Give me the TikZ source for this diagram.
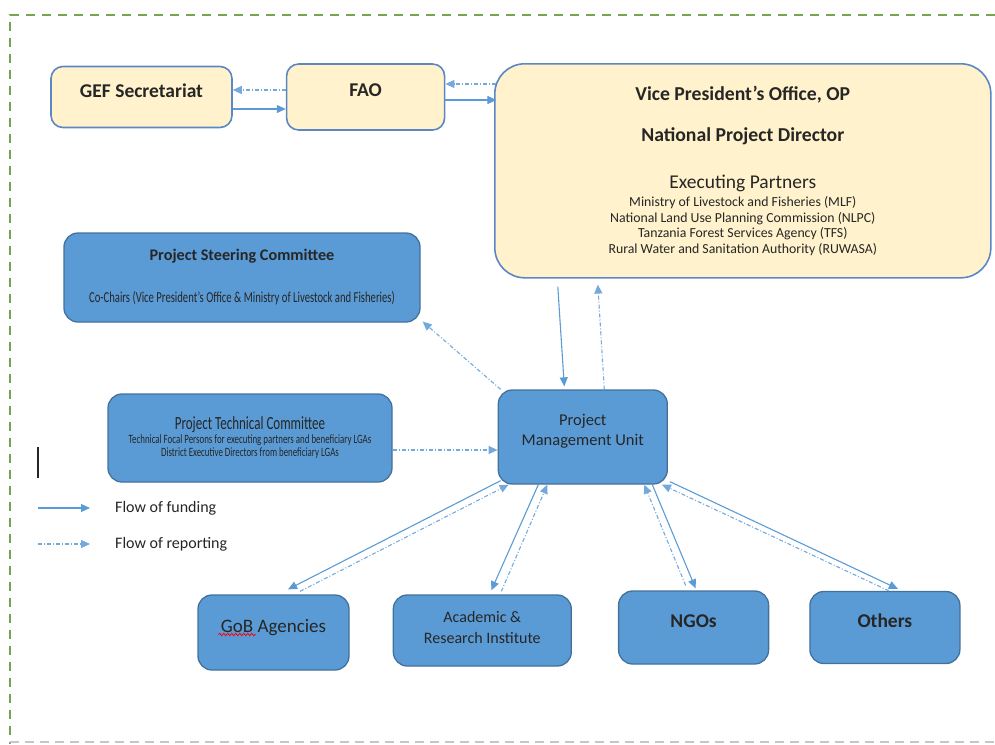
\documentclass[tikz,border=0pt]{standalone}
\usepackage{fontspec}
\setmainfont{Carlito}
\newfontfamily\narrowfont{Carlito}[FakeStretch=0.7]
\usetikzlibrary{arrows.meta, positioning, decorations.pathmorphing}

\definecolor{paleyellow}{HTML}{FFF2CC}
\definecolor{yellowedge}{HTML}{5B87C5}
\definecolor{boxblue}{HTML}{5B9BD5}
\definecolor{blueedge}{HTML}{41719C}
\definecolor{lineblue}{HTML}{5B9BD5}
\definecolor{framegreen}{HTML}{76A552}
\definecolor{textgray}{HTML}{262626}

\newcommand{\fixedlines}{\lineskiplimit=-100pt\relax}

\begin{document}
\begin{tikzpicture}[
    x=1pt, y=-1pt,
    yellowbox/.style={
        draw=yellowedge,
        fill=paleyellow,
        line width=1.6pt,
        rounded corners=12pt,
        align=center,
        inner sep=0pt,
        text=textgray,
        font=\bfseries\fontsize{19.5}{23}\selectfont
    },
    bluebox/.style={
        draw=blueedge,
        fill=boxblue,
        line width=1.3pt,
        rounded corners=14pt,
        align=center,
        inner sep=0pt,
        text=textgray
    },
    fund/.style={
        -{Triangle[length=9pt,width=8pt]},
        line width=1.1pt,
        draw=lineblue
    },
    report/.style={
        -{Triangle[length=9pt,width=8pt]},
        line width=1.1pt,
        draw=lineblue!85,
        dash pattern=on 4pt off 2pt on 1pt off 2pt
    },
    legend/.style={
        anchor=west,
        inner sep=0pt,
        text=textgray,
        font=\fontsize{16}{19}\selectfont
    }
]
\useasboundingbox (0,0) rectangle (995,744);

% Frame
\draw [framegreen, line width=2pt, dash pattern=on 9pt off 7pt] (995,15) -- (10,15) -- (10,744);
\draw [gray!45, line width=1.5pt, dash pattern=on 9pt off 6pt] (10,742) -- (995,742);

% Nodes
\node (gef) [yellowbox, minimum width=181pt, minimum height=61pt, text depth=13pt] at (141.5,97) {GEF Secretariat};
\node (fao) [yellowbox, minimum width=158pt, minimum height=66pt, text depth=13pt, right=53pt of gef] {FAO};
\node (vpo) [yellowbox, rounded corners=30pt, minimum width=496pt, minimum height=214pt, anchor=north west,
    font=\fontsize{13.8}{15.7}\selectfont\fixedlines] at (494,63)
    {{\bfseries\fontsize{19.7}{23}\selectfont Vice President’s Office, OP}\\[25.3pt]
     {\bfseries\fontsize{19.7}{23}\selectfont National Project Director}\\[31.3pt]
     {\fontsize{19.5}{23}\selectfont Executing Partners}\\[2.3pt]
     Ministry of Livestock and Fisheries (MLF)\\
     National Land Use Planning Commission (NLPC)\\
     Tanzania Forest Services Agency (TFS)\\
     Rural Water and Sanitation Authority (RUWASA)};

\node (psc) [bluebox, minimum width=356pt, minimum height=89pt,
    font=\fontsize{14}{16}\selectfont\fixedlines] at (242,277.5)
    {{\bfseries\fontsize{16.2}{19}\selectfont Project Steering Committee}\\[26pt]
     {\narrowfont\fontsize{15.2}{16}\selectfont Co-Chairs (Vice President’s Office \& Ministry of Livestock and Fisheries)}};
\node (ptc) [bluebox, minimum width=284pt, minimum height=88pt,
    font=\narrowfont\fontsize{12.7}{13}\selectfont\fixedlines] at (250,438)
    {{\fontsize{18.6}{20}\selectfont Project Technical Committee}\\[1pt]
     Technical Focal Persons for executing partners and beneficiary LGAs\\
     District Executive Directors from beneficiary LGAs};
\node (pmu) [bluebox, minimum width=169pt, minimum height=94pt, right=105pt of ptc, yshift=1pt, text depth=13.5pt,
    font=\fontsize{16.5}{20}\selectfont\fixedlines] {Project\\Management Unit};

\node (gob) [bluebox, minimum width=151pt, minimum height=75pt, text depth=13pt,
    font=\fontsize{19}{22}\selectfont] at (273.5,632.5) {GoB Agencies};
\node (acad) [bluebox, minimum width=178pt, minimum height=71pt, right=43pt of gob, yshift=2pt, text depth=6pt,
    font=\fontsize{16}{21}\selectfont\fixedlines] {Academic \&\\Research Institute};
\node (ngo) [bluebox, minimum width=150pt, minimum height=73pt, text depth=13pt, right=46pt of acad, yshift=3pt,
    font=\bfseries\fontsize{19.5}{23}\selectfont] {NGOs};
\node (others) [bluebox, minimum width=150pt, minimum height=72pt, text depth=13pt, right=40pt of ngo,
    font=\bfseries\fontsize{19.5}{23}\selectfont] {Others};

% spell-check mark and cursor
\draw [red, line width=0.8pt, decorate, decoration={snake, amplitude=1.2pt, segment length=4pt}]
    ([shift={(-55pt,-2pt)}]gob.center) -- ([shift={(-18pt,-2pt)}]gob.center);
\draw [textgray, line width=2pt] (38,447) -- (38,478);

% Legend
\node (fundtxt) [legend] at (115,508) {Flow of funding};
\node (reporttxt) [legend] at (115,544) {Flow of reporting};
\coordinate (fundA) at (38,508);
\coordinate (reportA) at (38,544);
\draw [fund] (fundA) -- ([xshift=-25pt]fundtxt.west);
\draw [report] (reportA) -- ([xshift=-25pt]reporttxt.west);

% Paths
\draw [report] ([yshift=7pt]fao.west) -- ([yshift=7pt]gef.east);
\draw [fund] ([yshift=-12pt]gef.east) -- ([yshift=-12pt]fao.west);
\draw [report] ([shift={(51pt,13pt)}]fao.east) -- ([yshift=13pt]fao.east);
\draw [fund] ([yshift=-3pt]fao.east) -- ([shift={(51pt,-3pt)}]fao.east);
\draw [fund] ([shift={(-185pt,-8pt)}]vpo.south) -- ([shift={(-18.5pt,3pt)}]pmu.north);
\draw [report] ([xshift=21.5pt]pmu.north) -- ([shift={(-145pt,-6pt)}]vpo.south);
\draw [report] ([xshift=3pt]pmu.north west) -- ([shift={(2pt,1pt)}]psc.south east);
\draw [report] ([yshift=-12pt]ptc.east) -- ([yshift=-13pt]pmu.west);
\draw [fund] ([shift={(3pt,4pt)}]pmu.south west) -- ([shift={(14.5pt,5pt)}]gob.north);
\draw [report] ([shift={(26.5pt,3pt)}]gob.north) -- ([xshift=11pt]pmu.south west);
\draw [fund] ([xshift=-44.5pt]pmu.south) -- ([shift={(9pt,4pt)}]acad.north);
\draw [report] ([shift={(19pt,3pt)}]acad.north) -- ([xshift=-35.5pt]pmu.south);
\draw [report] ([shift={(-8pt,5pt)}]ngo.north) -- ([xshift=61.5pt]pmu.south);
\draw [fund] ([xshift=69.5pt]pmu.south) -- ([shift={(2pt,2pt)}]ngo.north);
\draw [fund] ([shift={(2pt,3pt)}]pmu.south east) -- ([shift={(13pt,2pt)}]others.north);
\draw [report] ([xshift=4pt]others.north) -- ([xshift=-6pt]pmu.south east);

\end{tikzpicture}
\end{document}
